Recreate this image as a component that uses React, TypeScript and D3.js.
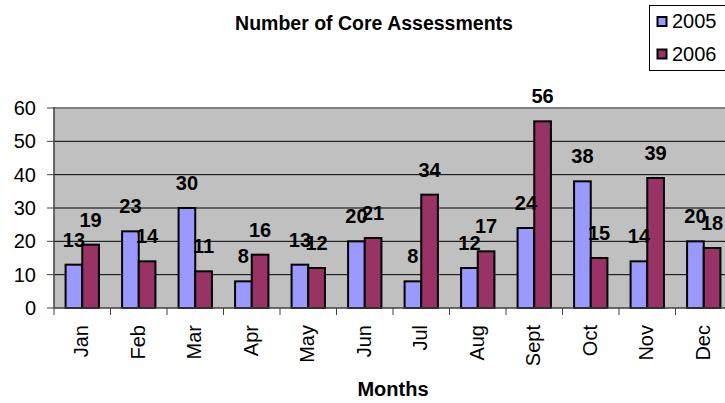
import React from "react";
import * as d3 from "d3";

const months = ["Jan", "Feb", "Mar", "Apr", "May", "Jun", "Jul", "Aug", "Sept", "Oct", "Nov", "Dec"];
const values2005 = [13, 23, 30, 8, 13, 20, 8, 12, 24, 38, 14, 20];
const values2006 = [19, 14, 11, 16, 12, 21, 34, 17, 56, 15, 39, 18];
const seriesNames = ["2005", "2006"];
const seriesColors = ["#9999FF", "#993366"];
const yTicks = [0, 10, 20, 30, 40, 50, 60];

const W = 725;
const H = 403;
const left = 54;
const bandW = 56.5;
const right = left + bandW * months.length;
const top = 108;
const bottom = 308;
const FONT = "Arial, 'Liberation Sans', sans-serif";

export default function App() {
  const x = d3.scaleBand<string>().domain(months).range([left, right]).paddingInner(0.41).paddingOuter(0.205);
  const inner = d3.scaleBand<string>().domain(seriesNames).range([0, x.bandwidth()]);
  const y = d3.scaleLinear().domain([0, 60]).range([bottom, top]);
  const series = [values2005, values2006];

  return (
    <svg width={W} height={H} style={{ position: "absolute", left: 0, top: 0, fontFamily: FONT }}>
      <rect x={0} y={0} width={W} height={H} fill="#ffffff" />
      <text x={374} y={30} textAnchor="middle" fontSize={19.5} fontWeight="bold">Number of Core Assessments</text>
      {/* plot area */}
      <rect x={left} y={top} width={right - left} height={bottom - top} fill="#C0C0C0" />
      {yTicks.filter((t) => t > 0 && t < 60).map((t) => (
        <line key={t} x1={left} x2={right} y1={y(t)} y2={y(t)} stroke="#000" strokeWidth={1} />
      ))}
      <line x1={left} x2={right} y1={y(60)} y2={y(60)} stroke="#808080" strokeWidth={2} />
      {/* bars */}
      {series.map((vals, si) =>
        vals.map((v, i) => (
          <rect
            key={`${si}-${i}`}
            x={(x(months[i]) as number) + (inner(seriesNames[si]) as number)}
            y={y(v)}
            width={inner.bandwidth()}
            height={bottom - y(v)}
            fill={seriesColors[si]}
            stroke="#000"
            strokeWidth={2}
          />
        ))
      )}
      {/* axes */}
      <line x1={left} x2={left} y1={top - 1} y2={bottom} stroke="#404040" strokeWidth={1.5} />
      <line x1={left} x2={right} y1={bottom} y2={bottom} stroke="#404040" strokeWidth={1.5} />
      {yTicks.map((t) => (
        <g key={t}>
          <line x1={left - 7} x2={left} y1={y(t)} y2={y(t)} stroke="#404040" strokeWidth={1} />
          <text x={36} y={y(t)} dy="0.35em" textAnchor="end" fontSize={20}>{t}</text>
        </g>
      ))}
      {months.map((m, i) => (
        <line key={m} x1={left + i * bandW} x2={left + i * bandW} y1={bottom} y2={bottom + 7} stroke="#404040" strokeWidth={1} />
      ))}
      {months.map((m) => {
        const cx = (x(m) as number) + x.bandwidth() / 2 - 1;
        return (
          <text key={m} transform={`translate(${cx},325) rotate(-90)`} dy="0.35em" textAnchor="end" fontSize={20}>{m}</text>
        );
      })}
      {/* data labels */}
      {series.map((vals, si) =>
        vals.map((v, i) => (
          <text
            key={`l-${si}-${i}`}
            x={(x(months[i]) as number) + (inner(seriesNames[si]) as number) + inner.bandwidth() / 2}
            y={y(v) - 18}
            textAnchor="middle"
            fontSize={20}
            fontWeight="bold"
          >
            {v}
          </text>
        ))
      )}
      <text x={(left + right) / 2} y={396} textAnchor="middle" fontSize={20} fontWeight="bold">Months</text>
      {/* legend */}
      <rect x={649.5} y={5.5} width={90} height={65} fill="#fff" stroke="#000" strokeWidth={1} />
      {seriesNames.map((s, i) => (
        <g key={s}>
          <rect x={657.5} y={17 + i * 32.5} width={9} height={9} fill={seriesColors[i]} stroke="#000" strokeWidth={2} />
          <text x={672} y={28 + i * 32.5} fontSize={20}>{s}</text>
        </g>
      ))}
    </svg>
  );
}
